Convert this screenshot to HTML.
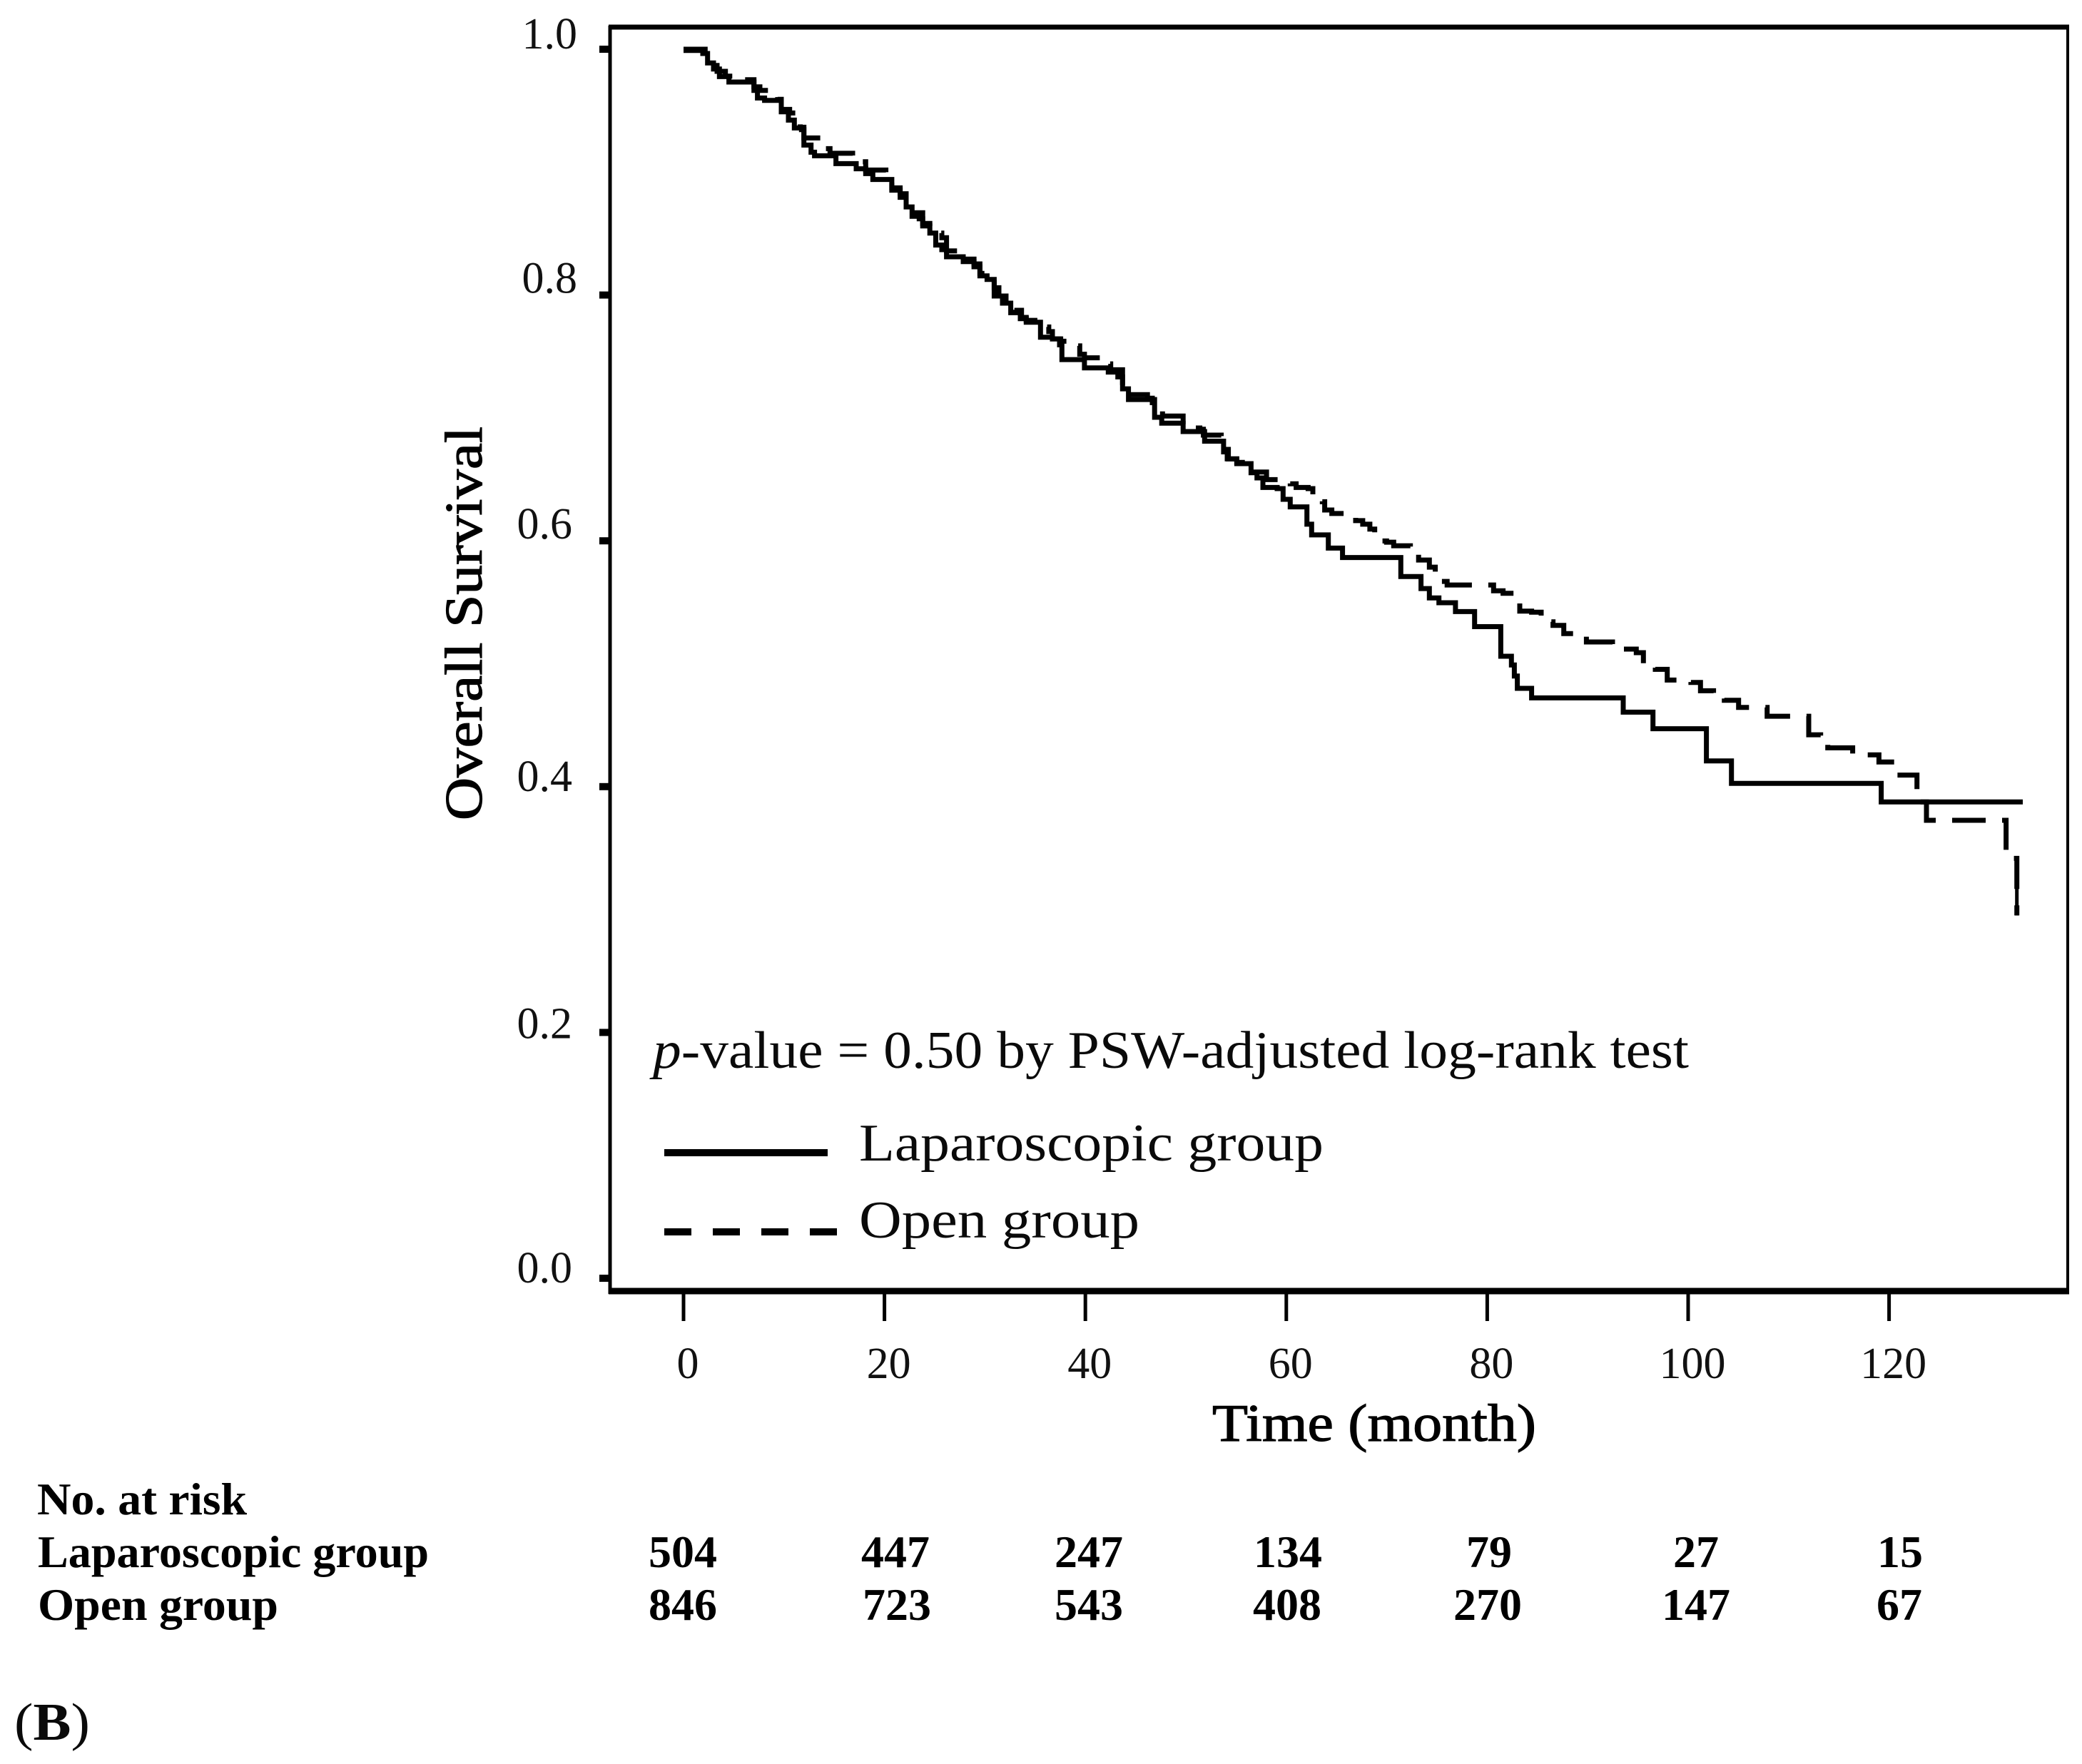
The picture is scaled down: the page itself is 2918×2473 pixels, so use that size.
<!DOCTYPE html>
<html lang="en">
<head>
<meta charset="utf-8">
<title>Overall Survival</title>
<style>
html,body{margin:0;padding:0;background:#fff;}
svg{display:block;}
text{font-family:"Liberation Serif",serif;fill:#000;}
.tick{font-size:62px;fill:#111;}
.big{font-size:74px;fill:#0a0a0a;}
.axis{font-size:74px;stroke:#000;stroke-width:1.2px;}
.risk{font-size:64px;font-weight:bold;}
</style>
</head>
<body>
<svg id="chart" xmlns="http://www.w3.org/2000/svg" width="2918" height="2473" viewBox="0 0 2918 2473">
  <rect x="0" y="0" width="2918" height="2473" fill="#fff"/>
  <g id="frame" stroke="#000" fill="none">
    <line x1="853" y1="38" x2="2900" y2="38" stroke-width="7"/>
    <line x1="855" y1="36" x2="855" y2="1814" stroke-width="5"/>
    <line x1="853" y1="1810" x2="2900" y2="1810" stroke-width="9"/>
    <line x1="2898" y1="36" x2="2898" y2="1814" stroke-width="4"/>
  </g>
  <g id="yaxis"></g>
  <g id="xaxis"></g>
  <g id="series"></g>

  <text class="axis" transform="translate(675 1150) rotate(-90)" textLength="552" lengthAdjust="spacingAndGlyphs">Overall Survival</text>
  <text class="axis" x="1699" y="2020" textLength="454" lengthAdjust="spacingAndGlyphs">Time (month)</text>

  <text class="big" x="915" y="1497" textLength="1452" lengthAdjust="spacingAndGlyphs"><tspan font-style="italic">p</tspan>-value = 0.50 by PSW-adjusted log-rank test</text>

  <g>
    <line x1="931" y1="1616" x2="1160" y2="1616" stroke="#000" stroke-width="10"/>
    <text class="big" x="1204" y="1627" textLength="651" lengthAdjust="spacingAndGlyphs">Laparoscopic group</text>
    <line x1="931" y1="1727" x2="1173" y2="1727" stroke="#000" stroke-width="10" stroke-dasharray="38 30"/>
    <text class="big" x="1204" y="1735" textLength="393" lengthAdjust="spacingAndGlyphs">Open group</text>
  </g>

  <g class="risk">
    <text class="risk" x="52" y="2123" textLength="294" lengthAdjust="spacingAndGlyphs">No. at risk</text>
    <text class="risk" x="53" y="2197" textLength="548" lengthAdjust="spacingAndGlyphs">Laparoscopic group</text>
    <text class="risk" x="53" y="2271" textLength="337" lengthAdjust="spacingAndGlyphs">Open group</text>
    <g text-anchor="middle">
      <text class="risk" x="957" y="2197">504</text>
      <text class="risk" x="1255" y="2197">447</text>
      <text class="risk" x="1526" y="2197">247</text>
      <text class="risk" x="1805" y="2197">134</text>
      <text class="risk" x="2087" y="2197">79</text>
      <text class="risk" x="2377" y="2197">27</text>
      <text class="risk" x="2663" y="2197">15</text>
      <text class="risk" x="957" y="2271">846</text>
      <text class="risk" x="1257" y="2271">723</text>
      <text class="risk" x="1526" y="2271">543</text>
      <text class="risk" x="1804" y="2271">408</text>
      <text class="risk" x="2085" y="2271">270</text>
      <text class="risk" x="2377" y="2271">147</text>
      <text class="risk" x="2662" y="2271">67</text>
    </g>
  </g>

  <text class="big" x="20" y="2439" textLength="106" lengthAdjust="spacingAndGlyphs">(<tspan font-weight="bold">B</tspan>)</text>
</svg>
<script>
var xTicks = [0, 20, 40, 60, 80, 100, 120];
var yTicks = [0.0, 0.2, 0.4, 0.6, 0.8, 1.0];
var yTickLabels = ['0.0', '0.2', '0.4', '0.6', '0.8', '1.0'];

var lapTimes = [0,1.92,2.39,2.98,3.57,4.52,7.01,7.36,8.07,9.73,10.44,11.03,11.74,11.98,12.69,13.04,15.17,17.19,18.13,18.84,20.73,21.56,22.16,22.75,23.46,23.81,24.52,25.11,25.71,26.18,27.84,28.91,29.50,30.21,30.92,31.75,32.57,33.52,34.11,35.53,36.72,37.43,37.66,39.91,42.28,43.23,43.70,44.29,46.89,47.60,49.73,51.87,53.76,54.12,55.07,56.49,57.08,57.67,59.09,59.68,60.39,62.05,62.52,64.18,65.60,71.40,73.41,74.24,75.19,76.84,78.74,81.35,82.41,82.70,83.00,84.42,93.54,96.50,101.82,104.31,119.22,133.31];
var lapSurvival = [.9990,.9965,.9888,.9839,.9777,.9733,.9665,.9603,.9584,.9491,.9423,.9359,.9346,.9220,.9162,.9133,.9069,.9027,.8988,.8940,.8853,.8795,.8717,.8640,.8620,.8562,.8504,.8407,.8369,.8311,.8272,.8253,.8156,.8127,.7992,.7934,.7856,.7808,.7779,.7657,.7643,.7595,.7475,.7407,.7373,.7334,.7237,.7150,.7005,.6957,.6889,.6811,.6724,.6667,.6628,.6554,.6512,.6434,.6425,.6338,.6276,.6135,.6048,.5941,.5864,.5709,.5612,.5535,.5496,.5424,.5302,.5061,.4990,.4900,.4800,.4722,.4606,.4471,.4209,.4026,.3875,.3875];

var openTimes = [0,2.15,2.51,2.98,3.34,4.17,5.47,7.01,7.60,8.43,9.37,9.73,10.56,11.39,11.62,11.98,13.87,14.58,16.83,18.13,20.14,20.73,21.56,22.16,22.51,23.81,24.52,25.11,25.71,26.18,27.60,27.84,28.91,29.50,30.56,30.92,31.39,32.10,32.93,33.64,34.11,35.65,36.36,36.72,37.54,38.49,39.44,39.91,41.81,42.52,43.70,44.29,46.18,46.66,47.68,49.73,51.39,51.75,53.52,54.23,55.07,56.01,56.49,58.03,60.39,60.98,62.17,62.64,63.59,63.82,64.53,65.84,66.90,67.61,68.32,68.80,69.98,70.69,72.35,72.46,73.17,74.24,74.83,74.95,76.01,80.63,81.58,82.65,83.24,84.42,85.37,86.55,87.62,89.87,92.47,94.84,95.55,96.73,97.92,100.28,101.23,102.53,103.60,105.02,107.86,112.00,113.19,113.90,116.38,117.57,118.99,120.76,122.78,123.72,131.65,132.72];
var openSurvival = [1.000,.9965,.9907,.9868,.9820,.9781,.9752,.9694,.9665,.9627,.9592,.9510,.9481,.9433,.9365,.9278,.9191,.9153,.9085,.9017,.8969,.8872,.8824,.8737,.8669,.8582,.8562,.8504,.8466,.8359,.8340,.8292,.8230,.8176,.8166,.8059,.7992,.7920,.7876,.7818,.7794,.7740,.7702,.7643,.7624,.7586,.7518,.7489,.7440,.7392,.7257,.7189,.7160,.7082,.7015,.6918,.6908,.6860,.6744,.6666,.6638,.6618,.6560,.6498,.6464,.6434,.6425,.6338,.6318,.6251,.6222,.6193,.6164,.6135,.6096,.5999,.5989,.5960,.5941,.5912,.5844,.5786,.5738,.5670,.5641,.5593,.5573,.5564,.5428,.5419,.5341,.5312,.5245,.5177,.5119,.5090,.4974,.4954,.4867,.4848,.4780,.4722,.4703,.4645,.4573,.4422,.4413,.4316,.4268,.4258,.4200,.4094,.3875,.3726,.3416,.2952];

function xScale(t) { return 958 + t * 14.08; }
function yScale(s) { return 1792 - s * 1723; }

function stepPath(times, values) {
  var d = 'M' + xScale(times[0]).toFixed(1) + ' ' + yScale(values[0]).toFixed(1);
  for (var i = 1; i < times.length; i++) {
    d += 'H' + xScale(times[i]).toFixed(1) + 'V' + yScale(values[i]).toFixed(1);
  }
  return d;
}

var NS = 'http://www.w3.org/2000/svg';
function make(tag, parent, attrs, text) {
  var el = document.createElementNS(NS, tag);
  for (var k in attrs) { el.setAttribute(k, attrs[k]); }
  if (text !== undefined) { el.textContent = text; }
  parent.appendChild(el);
  return el;
}

var yGroup = document.getElementById('yaxis');
yTicks.forEach(function (v, i) {
  var tick = make('line', yGroup, {x1: 840, x2: 855, y1: yScale(v), y2: yScale(v), stroke: '#000', 'stroke-width': 10});
  
  
  var right = v >= 0.8 ? 809 : 802;
  var shift = v === 1 ? -1 : (v >= 0.6 ? -3 : (i === 1 ? 8 : 6));
  var label = make('text', yGroup, {x: right, y: yScale(v) + shift, 'text-anchor': 'end', 'class': 'tick'}, yTickLabels[i]);
  
  
});

var xGroup = document.getElementById('xaxis');
xTicks.forEach(function (t) {
  var tick = make('line', xGroup, {x1: xScale(t), x2: xScale(t), y1: 1810, y2: 1852, stroke: '#000', 'stroke-width': 5});
  
  
  var label = make('text', xGroup, {x: xScale(t) + 6, y: 1932, 'text-anchor': 'middle', 'class': 'tick'}, String(t));
  
  
});

var seriesGroup = document.getElementById('series');
var openLine = make('path', seriesGroup, {d: stepPath(openTimes, openSurvival), fill: 'none', stroke: '#000', 'stroke-width': 7, 'stroke-dasharray': '47 23', 'stroke-dashoffset': 11, 'stroke-linejoin': 'miter'});


var n = openTimes.length - 1;
var openTail = make('line', seriesGroup, {x1: xScale(openTimes[n]), x2: xScale(openTimes[n]), y1: yScale(openSurvival[n - 1]) + 3, y2: yScale(openSurvival[n]), stroke: '#000', 'stroke-width': 5});


var lapLine = make('path', seriesGroup, {d: stepPath(lapTimes, lapSurvival), fill: 'none', stroke: '#000', 'stroke-width': 7, 'stroke-linejoin': 'miter'});


</script>
</body>
</html>
